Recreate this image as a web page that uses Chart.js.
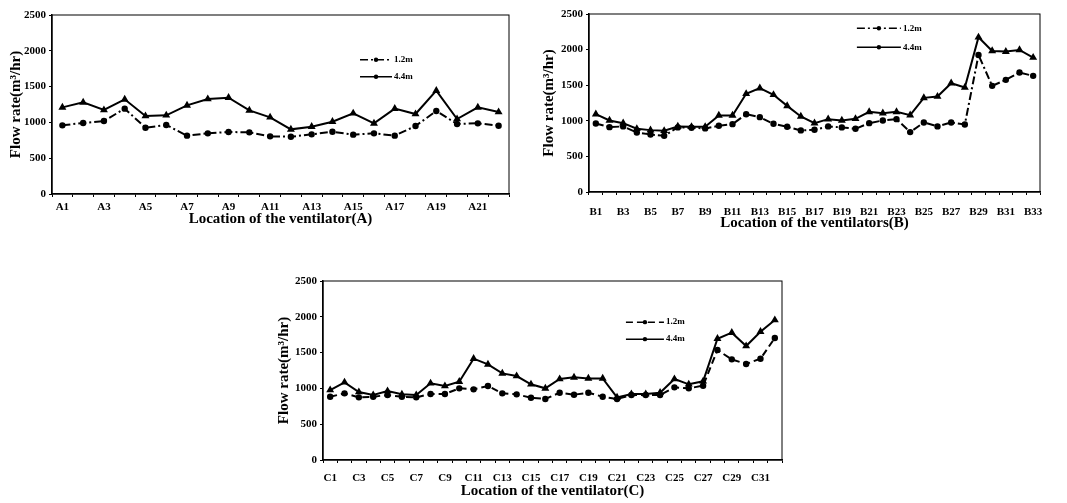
<!DOCTYPE html>
<html>
<head>
<meta charset="utf-8">
<script src="https://cdn.jsdelivr.net/npm/chart.js@4.4.0/dist/chart.umd.min.js"></script>
<style>
  html, body { margin:0; padding:0; background:#fff; }
  body { width:1067px; height:503px; position:relative; overflow:hidden; }
  .box { position:absolute; }
</style>
</head>
<body>
<div class="box" style="left:0px;top:0px;width:525px;height:230px"><canvas id="chartA"></canvas></div>
<div class="box" style="left:530px;top:0px;width:537px;height:232px"><canvas id="chartB"></canvas></div>
<div class="box" style="left:270px;top:260px;width:530px;height:243px"><canvas id="chartC"></canvas></div>
<script>
// ---------- DATA ----------
const labelsA = ['A1','A2','A3','A4','A5','A6','A7','A8','A9','A10','A11','A12','A13','A14','A15','A16','A17','A18','A19','A20','A21','A22'];
const flow12A = [959,992,1019,1192,926,964,815,847,866,861,805,800,833,870,829,847,815,950,1159,978,987,954];
const flow44A = [1210,1280,1173,1322,1089,1099,1238,1327,1345,1168,1071,903,940,1010,1127,987,1192,1117,1443,1047,1210,1145];

const labelsB = ['B1','B2','B3','B4','B5','B6','B7','B8','B9','B10','B11','B12','B13','B14','B15','B16','B17','B18','B19','B20','B21','B22','B23','B24','B25','B26','B27','B28','B29','B30','B31','B32','B33'];
const flow12B = [963,911,921,836,808,790,907,902,893,930,953,1093,1051,958,916,865,874,921,907,888,967,1005,1023,841,977,921,977,949,1925,1491,1575,1678,1631];
const flow44B = [1093,1005,967,888,869,860,921,916,916,1075,1075,1379,1458,1365,1210,1061,967,1023,1005,1028,1126,1107,1126,1079,1322,1341,1528,1467,2173,1981,1972,1995,1888];

const labelsC = ['C1','C2','C3','C4','C5','C6','C7','C8','C9','C10','C11','C12','C13','C14','C15','C16','C17','C18','C19','C20','C21','C22','C23','C24','C25','C26','C27','C28','C29','C30','C31','C32'];
const flow12C = [884,931,875,884,908,884,875,922,922,1001,987,1033,931,917,870,852,940,912,940,884,852,908,908,908,1015,1001,1038,1536,1406,1341,1415,1704];
const flow44C = [977,1085,950,908,964,917,908,1071,1033,1094,1415,1336,1210,1173,1057,1001,1131,1154,1140,1140,875,922,922,940,1131,1057,1099,1694,1778,1592,1792,1955];

const seriesNames = ['1.2m', '4.4m'];
const yTicks = [0, 500, 1000, 1500, 2000, 2500];

// ---------- Plugins ----------
const SERIF = '"Liberation Serif", "DejaVu Serif", serif';

const framePlugin = {
  id: 'frame',
  afterDraw(chart) {
    const {ctx, chartArea: a} = chart;
    ctx.save();
    ctx.strokeStyle = '#000';
    ctx.lineWidth = 1;
    ctx.strokeRect(a.left, a.top, a.right - a.left, a.bottom - a.top);
    ctx.restore();
  }
};

// small legend drawn inside the plot, like the original
const insideLegend = {
  id: 'insideLegend',
  afterDraw(chart, args, opts) {
    const {ctx, chartArea: a} = chart;
    const x0 = a.left + (a.right - a.left) * opts.fx;
    let y = a.top + (a.bottom - a.top) * opts.fy;
    ctx.save();
    chart.data.datasets.forEach(ds => {
      ctx.strokeStyle = '#000';
      ctx.lineWidth = 1.5;
      ctx.setLineDash(ds.borderDash || []);
      ctx.beginPath();
      ctx.moveTo(x0, y);
      ctx.lineTo(x0 + opts.len, y);
      ctx.stroke();
      ctx.setLineDash([]);
      ctx.fillStyle = '#000';
      ctx.beginPath();
      ctx.arc(x0 + opts.len / 2, y, 2.2, 0, Math.PI * 2);
      ctx.fill();
      ctx.font = 'bold 9px ' + SERIF;
      ctx.textBaseline = 'middle';
      ctx.fillText(ds.label, x0 + opts.len + 2, y);
      y += opts.gap;
    });
    ctx.restore();
  }
};

// ---------- Chart factory ----------
function makeChart(id, labels, s12, s44, xTitle, cfg) {
  const ctx = document.getElementById(id).getContext('2d');
  return new Chart(ctx, {
    type: 'line',
    data: {
      labels: labels,
      datasets: [
        { label: seriesNames[0], data: s12, borderColor: '#000', backgroundColor: '#000',
          borderWidth: 2, borderDash: cfg.dash, pointStyle: 'circle', pointRadius: 2.2,
          tension: 0, fill: false },
        { label: seriesNames[1], data: s44, borderColor: '#000', backgroundColor: '#000',
          borderWidth: 2, pointStyle: 'triangle', pointRadius: 2.6,
          tension: 0, fill: false }
      ]
    },
    options: {
      responsive: true,
      maintainAspectRatio: false,
      animation: false,
      layout: { padding: cfg.padding },
      plugins: {
        legend: { display: false },
        tooltip: { enabled: false },
        insideLegend: cfg.legend
      },
      scales: {
        x: {
          type: 'category',
          offset: true,
          grid: { display: true, drawOnChartArea: false, color: '#000', tickLength: 3, offset: true },
          border: { color: '#000', width: 1.5 },
          ticks: {
            autoSkip: false, maxRotation: 0, color: '#000', padding: cfg.tickPad,
            font: { family: SERIF, weight: 'bold', size: 11 },
            callback: function(v, i) { return i % 2 === 0 ? this.getLabelForValue(v) : ''; }
          },
          title: { display: true, text: xTitle, color: '#000', padding: { top: 0, bottom: cfg.titlePad },
                   font: { family: SERIF, weight: 'bold', size: 15 } },
          afterFit: s => { s.height = cfg.xHeight; }
        },
        y: {
          min: 0, max: 2500,
          afterBuildTicks: s => { s.ticks = yTicks.map(v => ({ value: v })); },
          grid: { display: true, drawOnChartArea: false, color: '#000', tickLength: 3 },
          border: { color: '#000', width: 1.5 },
          ticks: { color: '#000', padding: 3, font: { family: SERIF, weight: 'bold', size: 11 },
                   callback: v => String(v) },
          title: { display: true, text: 'Flow rate(m\u00B3/hr)', color: '#000', padding: { top: 0, bottom: 2 },
                   font: { family: SERIF, weight: 'bold', size: 15 } },
          afterFit: s => { s.width = cfg.yWidth; }
        }
      }
    },
    plugins: [framePlugin, insideLegend]
  });
}

makeChart('chartA', labelsA, flow12A, flow44A, 'Location of the ventilator(A)', {
  dash: [8, 3, 2, 3],
  padding: { top: 15, right: 16, left: 7, bottom: 0 },
  yWidth: 45, xHeight: 36, tickPad: 4, titlePad: 2,
  legend: { fx: 0.674, fy: 0.25, len: 32, gap: 17 }
});

makeChart('chartB', labelsB, flow12B, flow44B, 'Location of the ventilators(B)', {
  dash: [8, 3, 2, 3],
  padding: { top: 14, right: 27, left: 10, bottom: 0 },
  yWidth: 49, xHeight: 40, tickPad: 11, titlePad: 0,
  legend: { fx: 0.594, fy: 0.08, len: 44, gap: 19 }
});

makeChart('chartC', labelsC, flow12C, flow44C, 'Location of the ventilator(C)', {
  dash: [7, 4],
  padding: { top: 21, right: 18, left: 5, bottom: 0 },
  yWidth: 48, xHeight: 43, tickPad: 9, titlePad: 3,
  legend: { fx: 0.66, fy: 0.23, len: 38, gap: 17 }
});
</script>
</body>
</html>
